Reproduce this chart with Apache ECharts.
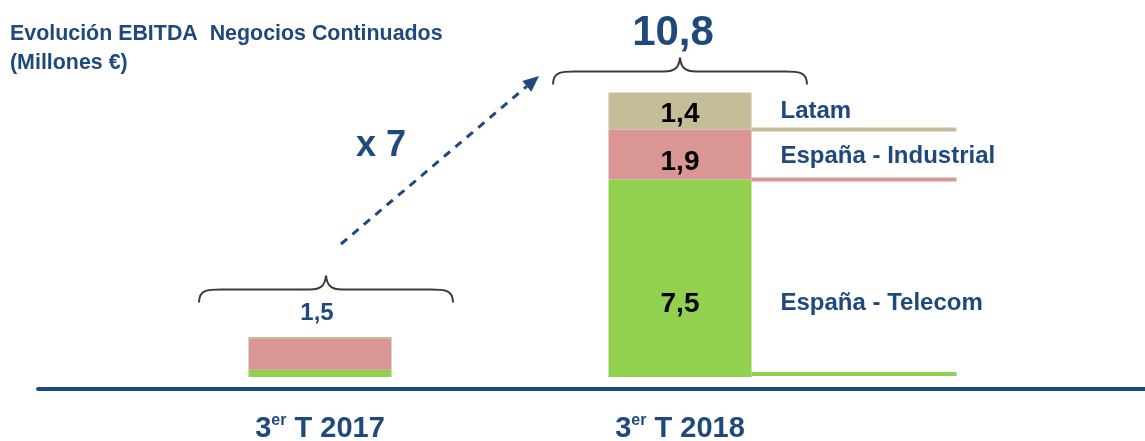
<!DOCTYPE html>
<html>
<head>
<meta charset="utf-8">
<script src="https://cdn.jsdelivr.net/npm/echarts@6/dist/echarts.min.js"></script>
<style>
html, body { margin: 0; padding: 0; background: #fff; }
#chart { width: 1145px; height: 441px; }
</style>
</head>
<body>
<div id="chart"></div>
<script>
// data
const categories = ['3er T 2017', '3er T 2018']
const segNames = ['España - Telecom', 'España - Industrial', 'Latam']
const telecom = [0.28, 7.5]
const industrial = [1.16, 1.9]
const latam = [0.08, 1.4]
const totals = [1.5, 10.8]
const growthLabel = 'x 7'

const blue = '#1F497D'
const segColors = ['#92D050', '#D99694', '#C4BD97']
const font = '"Liberation Sans", Arial, sans-serif'
const barWidth = 143
// nudges of the texts, per segment (telecom, industrial, latam)
const valueShift = [26, 8, 3]
const nameShift = [25, 2, 0]

const fmt = v => v.toFixed(1).replace('.', ',')

const chart = echarts.init(document.getElementById('chart'))

// legend lines on the right of the 2018 bar
const segData = []
let acc = 0
;[telecom, industrial, latam].forEach((arr, k) => {
	segData.push([1, acc, acc + arr[1], k])
	acc += arr[1]
})

function renderLegendLine(params, api) {
	const k = api.value(3)
	const base = api.coord([api.value(0), api.value(1)])
	const top = api.coord([api.value(0), api.value(2)])
	const x0 = base[0] + barWidth / 2
	const y = k === 0 ? base[1] - 3 : base[1]
	const ty = (base[1] + top[1]) / 2 + nameShift[k]
	return {
		type: 'group',
		children: [
			{
				type: 'line',
				shape: { x1: x0, y1: y, x2: x0 + 205, y2: y },
				style: { stroke: segColors[k], lineWidth: 4 }
			},
			{
				type: 'text',
				x: x0 + 29,
				y: ty,
				style: {
					text: segNames[k],
					fill: blue,
					font: 'bold 24px ' + font,
					align: 'left',
					verticalAlign: 'middle'
				}
			}
		]
	}
}

// curly braces with totals
function renderBrace(params, api) {
	const i = api.value(0)
	const top = api.coord([i, api.value(1)])
	const w = 127
	let cx, armY, lx, ly, fs
	if (i === 0) {
		cx = top[0] + 6; armY = top[1] - 48; lx = top[0] - 3; ly = top[1] - 24; fs = 24
	} else {
		cx = top[0]; armY = top[1] - 21; lx = top[0] - 7; ly = top[1] - 59; fs = 42
	}
	const d = 13, p = 14
	const path = 'M' + (cx - w) + ',' + (armY + d) +
		' C' + (cx - w) + ',' + (armY - 1) + ' ' + (cx - w + 10) + ',' + armY + ' ' + (cx - w + 26) + ',' + armY +
		' L' + (cx - 16) + ',' + armY +
		' C' + (cx - 5) + ',' + armY + ' ' + (cx - 1) + ',' + (armY - 4) + ' ' + cx + ',' + (armY - p) +
		' C' + (cx + 1) + ',' + (armY - 4) + ' ' + (cx + 5) + ',' + armY + ' ' + (cx + 16) + ',' + armY +
		' L' + (cx + w - 26) + ',' + armY +
		' C' + (cx + w - 10) + ',' + armY + ' ' + (cx + w) + ',' + (armY - 1) + ' ' + (cx + w) + ',' + (armY + d)
	return {
		type: 'group',
		children: [
			{
				type: 'path',
				shape: { pathData: path },
				style: { fill: 'none', stroke: '#3a3a3a', lineWidth: 2 }
			},
			{
				type: 'text',
				x: lx,
				y: ly,
				style: {
					text: fmt(api.value(1)),
					fill: blue,
					font: 'bold ' + fs + 'px ' + font,
					align: 'center',
					verticalAlign: 'middle'
				}
			}
		]
	}
}

// dashed arrow
const a0 = [341, 244], a1 = [539, 76]
const ang = Math.atan2(a1[1] - a0[1], a1[0] - a0[0])
const headL = 16, headW = 7
const hb = [a1[0] - headL * Math.cos(ang), a1[1] - headL * Math.sin(ang)]
const head = [
	a1,
	[hb[0] + headW * Math.sin(ang), hb[1] - headW * Math.cos(ang)],
	[hb[0] - headW * Math.sin(ang), hb[1] + headW * Math.cos(ang)]
]

const barSeries = [telecom, industrial, latam].map((arr, k) => ({
	name: segNames[k],
	type: 'bar',
	stack: 'total',
	barWidth: barWidth,
	xAxisIndex: 0,
	yAxisIndex: 0,
	itemStyle: { color: segColors[k] },
	label: {
		position: 'inside',
		color: '#000',
		fontSize: 28,
		fontWeight: 'bold',
		fontFamily: font,
		offset: [0, valueShift[k]],
		formatter: p => fmt(p.value)
	},
	data: arr.map((v, i) => ({ value: v, label: { show: i === 1 } }))
}))

const option = {
	animation: false,
	backgroundColor: '#fff',
	title: {
		text: 'Evolución EBITDA  Negocios Continuados\n(Millones €)',
		left: 10,
		top: 20,
		padding: 0,
		textStyle: {
			color: blue,
			fontSize: 21.4,
			fontWeight: 'bold',
			fontFamily: font,
			lineHeight: 29
		}
	},
	grid: [
		{ left: 140, right: 285, top: 61, bottom: 64, outerBoundsMode: 'none' },
		{ left: 38, right: 0, top: 0, bottom: 52.5, outerBoundsMode: 'none' }
	],
	xAxis: [
		{
			type: 'category',
			gridIndex: 0,
			data: categories,
			axisLine: { show: false },
			axisTick: { show: false },
			axisLabel: {
				margin: 36,
				formatter: v => v.replace(/^(\d)er (.*)$/, '{n|$1}{s|er}{n| $2}'),
				rich: {
					n: { fontSize: 29, fontWeight: 'bold', color: blue, fontFamily: font, lineHeight: 32 },
					s: { fontSize: 16, fontWeight: 'bold', color: blue, fontFamily: font, lineHeight: 15, verticalAlign: 'top' }
				}
			}
		},
		{
			type: 'category',
			gridIndex: 1,
			data: [],
			axisLine: { show: true, onZero: false, lineStyle: { color: blue, width: 4 } },
			axisTick: { show: false },
			axisLabel: { show: false }
		}
	],
	yAxis: [
		{ type: 'value', gridIndex: 0, min: 0, max: 12, show: false },
		{ type: 'value', gridIndex: 1, min: 0, max: 1, show: false }
	],
	series: barSeries.concat([
		{
			type: 'custom',
			xAxisIndex: 0,
			yAxisIndex: 0,
			renderItem: renderLegendLine,
			data: segData,
			z: 5
		},
		{
			type: 'custom',
			xAxisIndex: 0,
			yAxisIndex: 0,
			renderItem: renderBrace,
			data: totals.map((t, i) => [i, t]),
			z: 5
		}
	]),
	graphic: [
		{
			type: 'line',
			shape: { x1: a0[0], y1: a0[1], x2: hb[0], y2: hb[1] },
			style: { stroke: blue, lineWidth: 3, lineDash: [8, 7] }
		},
		{
			type: 'polygon',
			shape: { points: head },
			style: { fill: blue }
		},
		{
			type: 'text',
			left: 356,
			top: 128,
			style: {
				text: growthLabel,
				fill: blue,
				font: 'bold 36px ' + font
			}
		}
	]
}

chart.setOption(option)
</script>
</body>
</html>
